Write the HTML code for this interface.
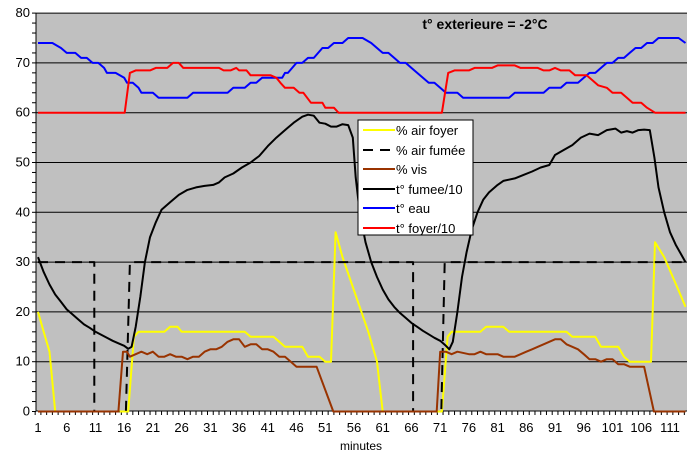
<!DOCTYPE html>
<html><head><meta charset="utf-8"><style>
html,body{margin:0;padding:0;background:#fff;}
svg{display:block;font-family:"Liberation Sans",Arial,sans-serif;}
</style></head><body>
<svg id="s" width="700" height="463" viewBox="0 0 700 463" xmlns="http://www.w3.org/2000/svg">
<rect x="36" y="13" width="651" height="398" fill="#c0c0c0"/>
<g id="grid" stroke="#000" stroke-width="1"></g>
<g id="axes" stroke="#000" stroke-width="1"></g>
<g id="labels" font-size="13" fill="#000"></g>
<g id="series" fill="none" stroke-linejoin="round"></g>
<text x="485" y="29" font-size="14" font-weight="bold" text-anchor="middle">t° exterieure = -2°C</text>
<text x="361" y="450" font-size="12" text-anchor="middle">minutes</text>
<g>
<rect x="358" y="120" width="115" height="115" fill="#fff" stroke="#000" stroke-width="1"/>
<g font-size="13">
<line x1="363" y1="130" x2="395" y2="130" stroke="#ffff00" stroke-width="2"/><text x="396" y="135">% air foyer</text>
<line x1="363" y1="150" x2="395" y2="150" stroke="#000" stroke-width="2" stroke-dasharray="10,7"/><text x="396" y="155">% air fumée</text>
<line x1="363" y1="169" x2="395" y2="169" stroke="#993300" stroke-width="2"/><text x="396" y="174">% vis</text>
<line x1="363" y1="189" x2="395" y2="189" stroke="#000" stroke-width="2"/><text x="396" y="194">t° fumee/10</text>
<line x1="363" y1="208" x2="395" y2="208" stroke="#0000ff" stroke-width="2"/><text x="396" y="213">t° eau</text>
<line x1="363" y1="228" x2="395" y2="228" stroke="#ff0000" stroke-width="2"/><text x="396" y="233">t° foyer/10</text>
</g></g>
</svg>
<script>
var NS="http://www.w3.org/2000/svg";
function X(m){return 38+(m-1)*5.745;}
function Y(v){return 411.5-v*4.98;}
function el(p,t,a,txt){var e=document.createElementNS(NS,t);for(var k in a)e.setAttribute(k,a[k]);if(txt!==undefined)e.textContent=txt;document.getElementById(p).appendChild(e);return e;}
for(var v=10;v<=80;v+=10){el("grid","line",{x1:36,x2:687,y1:Y(v),y2:Y(v)});el("labels","text",{x:30,y:Y(v)+4,"text-anchor":"end"},v);}
el("labels","text",{x:30,y:Y(0)+4,"text-anchor":"end"},0);
el("axes","line",{x1:36,x2:36,y1:13,y2:411});
el("axes","line",{x1:36,x2:687,y1:411,y2:411});
for(var v=0;v<=80;v+=2){el("axes","line",{x1:32,x2:36,y1:Y(v),y2:Y(v)});}
for(var m=0;m<=114;m++){var x=X(m)+2.9;if(x>687)break;el("axes","line",{x1:x,x2:x,y1:411,y2:415});}
for(var m=1;m<=111;m+=5){el("labels","text",{x:X(m),y:432,"text-anchor":"middle"},m);}
function path(pts,col,extra){var d="";for(var i=0;i<pts.length;i++){d+=(i?"L":"M")+X(pts[i][0]).toFixed(1)+","+Y(pts[i][1]).toFixed(1);}var a={d:d,stroke:col,"stroke-width":2};for(var k in extra)a[k]=extra[k];el("series","path",a);}
var blue=[[1,74],[3.5,74],[5,73],[6,72],[7.5,72],[8.5,71],[9.5,71],[10.5,70],[11.5,70],[12.5,69],[13,68],[14.5,68],[16,67],[16.5,66],[17.5,66],[18.5,65],[19,64],[21,64],[22,63],[27,63],[28,64],[34,64],[35,65],[37,65],[38,66],[39,66],[40,67],[43.5,67],[44,68],[44.5,68],[46,70],[47,70],[48,71],[49,71],[50.5,73],[51.5,73],[52.5,74],[54,74],[55,75],[57.5,75],[59,74],[60,73],[61,72],[62,72],[63,71],[64,70],[65,70],[66,69],[67,68],[68,67],[69,66],[70,66],[71,65],[72,64],[74,64],[75,63],[83,63],[84,64],[89,64],[90,65],[92,65],[93,66],[95,66],[96,67],[97,68],[98,68],[99,69],[100,70],[101,70],[102,71],[103,71],[104,72],[105,73],[106,73],[107,74],[108,74],[109,75],[112.5,75],[113.7,74]];
var red=[[1,60],[16.1,60],[17,68],[18,68.5],[20.5,68.5],[21.5,69],[23.5,69],[24.5,70],[25.5,70],[26.3,69],[32.5,69],[33.3,68.5],[34.5,68.5],[35.5,69],[36,68.5],[37.3,68.5],[38,67.5],[41.5,67.5],[42.5,67],[43.2,66],[44,65],[45.5,65],[46.5,64],[47.2,64],[48.5,62],[50.5,62],[51,61],[52.5,61],[53.3,60],[71.3,60],[72.4,68],[73.5,68.5],[76,68.5],[77,69],[80,69],[81,69.5],[84,69.5],[85,69],[88,69],[89,68.5],[90,68.5],[91,69],[92,68.5],[93.5,68.5],[94.5,67.5],[96.5,67.5],[97.5,66.5],[98.5,65.5],[100,65],[101,64],[102.5,64],[103.5,63],[104.5,62],[106,62],[107,61],[108.4,60],[113.7,60]];
var blk=[[1,31],[2,28],[3,25.5],[4,23.5],[5,22],[6,20.5],[7,19.5],[8,18.5],[9,17.5],[10,16.8],[11,16],[12,15.4],[13,14.8],[14,14.2],[15,13.7],[16,13.2],[16.7,12.6],[17.3,13],[18,17],[18.8,23],[19.6,30],[20.5,35],[21.5,38],[22.5,40.5],[24,42],[25.5,43.5],[27,44.5],[28.5,45],[30,45.3],[31.5,45.5],[32.5,46],[33.5,47],[35,47.8],[36.5,49],[38,50],[39.5,51.3],[41,53.3],[42.5,55],[44,56.5],[45.5,58],[47,59.2],[48,59.6],[49,59.4],[50,58],[51,57.8],[52,57.2],[53,57.2],[54,57.7],[55,57.5],[55.8,55],[56.3,47],[57,40],[58,34],[59,30],[60,27],[61,24.5],[62,22.5],[63,21],[64,19.8],[65,18.8],[66,17.8],[67,17],[68,16.2],[69,15.5],[70,14.8],[71,14.2],[72,13.2],[72.6,12.5],[73.2,14],[74,20],[74.8,27],[75.6,32],[76.5,36.5],[77.5,40],[78.5,42.5],[79.5,44],[81,45.5],[82,46.3],[84,46.8],[85.5,47.5],[87,48.2],[88.5,49],[90,49.5],[91,51.5],[92.5,52.5],[94,53.5],[95.5,55],[97,55.8],[98.5,55.5],[100,56.5],[101.5,56.8],[102.5,56],[103.5,56.3],[104.5,56],[105.5,56.5],[106.5,56.6],[107.5,56.5],[108.3,51],[109,45],[110,40],[111,36],[112,33.5],[113.7,30]];
var yel=[[1,20],[2,16],[3,12],[4,0],[16.7,0],[17.7,15],[18.5,16],[23,16],[24,17],[25.3,17],[26,16],[37,16],[38,15],[42,15],[43,14],[44,13],[47,13],[48,11],[50,11],[51,10],[52,10],[52.8,36],[54,31],[55.5,26],[57,21],[58.5,16],[60,10],[61,0],[71.3,0],[72.3,15],[73,16],[78,16],[79,17],[82,17],[83,16],[93,16],[94,15],[98,15],[99,13],[102,13],[103,11],[104,10],[107.7,10],[108.4,34],[110,31],[111.5,27],[113,23],[113.7,21]];
var brn=[[1,0],[15,0],[15.8,12],[16.5,12],[17,11],[18,11.5],[19,12],[20,11.5],[21,12],[22,11],[23,11],[24,11.5],[25,11],[26,11],[27,10.5],[28,11],[29,11],[30,12],[31,12.5],[32,12.5],[33,13],[34,14],[35,14.5],[36,14.5],[37,13],[38,13.5],[39,13.5],[40,12.5],[41,12.5],[42,12],[43,11],[44,11],[45,10],[46,9],[48,9],[49,9],[49.5,9],[52.4,0],[70.4,0],[71,12],[72,12],[73,11.5],[74,12],[76,11.5],[77,11.5],[78,12],[79,11.5],[81,11.5],[82,11],[84,11],[85,11.5],[86,12],[87,12.5],[88,13],[89,13.5],[90,14],[91,14.5],[92,14.5],[93,13.5],[94,13],[95,12.5],[96,11.5],[97,10.5],[98,10.5],[99,10],[100,10.5],[101,10.5],[102,9.5],[103,9.5],[104,9],[106,9],[106.5,9],[108.2,0],[113.7,0]];
var dsh=[[1,30],[10.8,30],[10.8,0],[16.3,0],[17,30],[66.3,30],[66.3,0],[71.2,0],[71.8,30],[113.7,30]];
path(yel,"#ffff00");
path(dsh,"#000",{"stroke-dasharray":"10,7"});
path(brn,"#993300");
path(blk,"#000");
path(blue,"#0000ff");
path(red,"#ff0000");
</script>
</body></html>
